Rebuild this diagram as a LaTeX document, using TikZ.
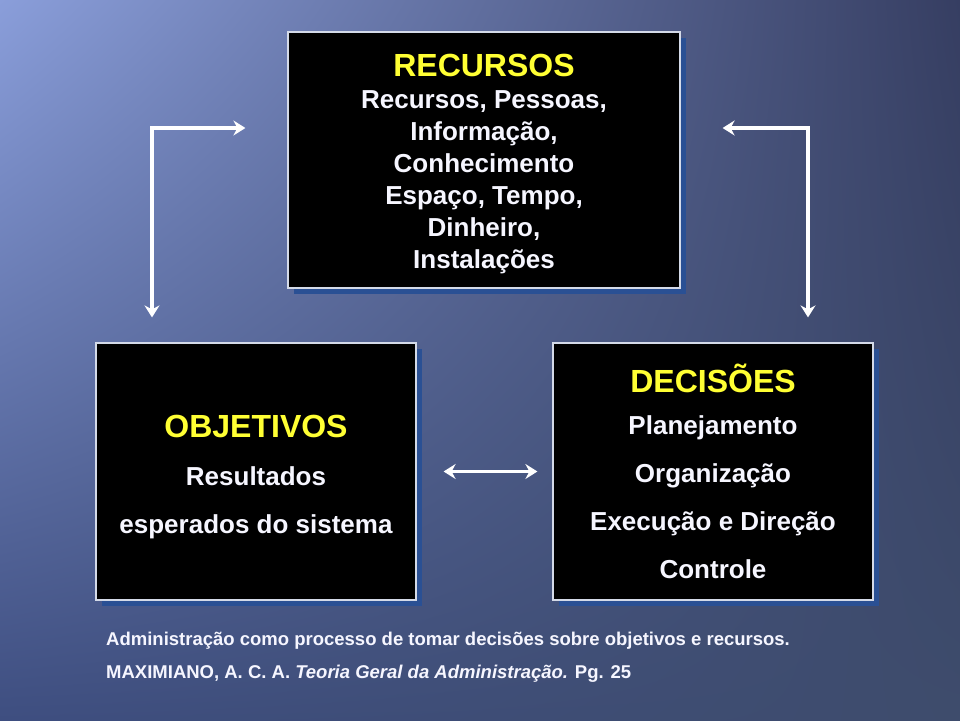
\documentclass[tikz,border=0pt]{standalone}
\usepackage{fontspec}
\setmainfont{Liberation Sans}
\usetikzlibrary{arrows.meta,shadows,shadings}
\definecolor{bgA}{RGB}{138,158,218}
\definecolor{bgB}{RGB}{54,62,98}
\definecolor{bgC}{RGB}{62,78,128}
\definecolor{bgD}{RGB}{62,76,108}
\definecolor{rim}{RGB}{212,218,232}
\definecolor{shd}{RGB}{42,80,148}
\definecolor{ylw}{RGB}{255,255,51}
\definecolor{txt}{RGB}{246,246,255}
\begin{document}
\begin{tikzpicture}[x=1pt,y=-1pt,
  box/.style={draw=rim,line width=1.2pt,rectangle,fill=black,text=txt,align=center,inner sep=0pt,
    drop shadow={shadow xshift=6pt,shadow yshift=-6pt,fill=shd,opacity=1}},
  arr/.style={draw=white,line width=3.2pt,{Stealth[length=12pt,width=15pt,inset=4pt]}-{Stealth[length=12pt,width=15pt,inset=4pt]}},
  note/.style={text=txt,font=\fontsize{18.5}{20}\selectfont\bfseries,anchor=base west,inner sep=0pt}]
\shade[upper left=bgA,upper right=bgB,lower left=bgC,lower right=bgD] (0,0) rectangle (960,720);
\useasboundingbox (0,0) rectangle (960,720);
\node[box,minimum width=392pt,minimum height=256pt,font=\fontsize{26}{32}\selectfont\bfseries] (res) at (484,160)
  {\rule{0pt}{31pt}{\fontsize{32}{33}\selectfont\color{ylw}RECURSOS}\\Recursos, Pessoas,\\Informação,\\Conhecimento\\Espaço, Tempo,\\Dinheiro,\\Instalações};
\node[box,minimum width=320pt,minimum height=257pt,font=\fontsize{26}{48}\selectfont\bfseries] (obj) at (256,471.5)
  {\rule{0pt}{33pt}{\fontsize{32}{33}\selectfont\color{ylw}OBJETIVOS}\\Resultados\\esperados do sistema};
\node[box,minimum width=320pt,minimum height=257pt,font=\fontsize{26}{48}\selectfont\bfseries] (dec) at (713,471.5)
  {{\fontsize{32}{33}\selectfont\color{ylw}DECISÕES}\\[-6pt]Planejamento\\Organização\\Execução e Direção\\Controle};
\coordinate (lc) at (152,128);
\coordinate (rc) at (808,128);
\draw[arr,shorten <=42pt,shorten >=25pt] (res.west |- lc) -- (lc) -- (lc |- obj.north);
\draw[arr,shorten <=42pt,shorten >=25pt] (res.east |- rc) -- (rc) -- (rc |- dec.north);
\draw[arr,shorten <=27pt,shorten >=15pt] (obj.east) -- (dec.west);
\node[note] (cap) at (106,645) {Administração como processo de tomar decisões sobre objetivos e recursos.};
\node[note] (ref) at (106,678) {MAXIMIANO, A. C. A. \textit{Teoria Geral da Administração.} Pg. 25};
\end{tikzpicture}
\end{document}
